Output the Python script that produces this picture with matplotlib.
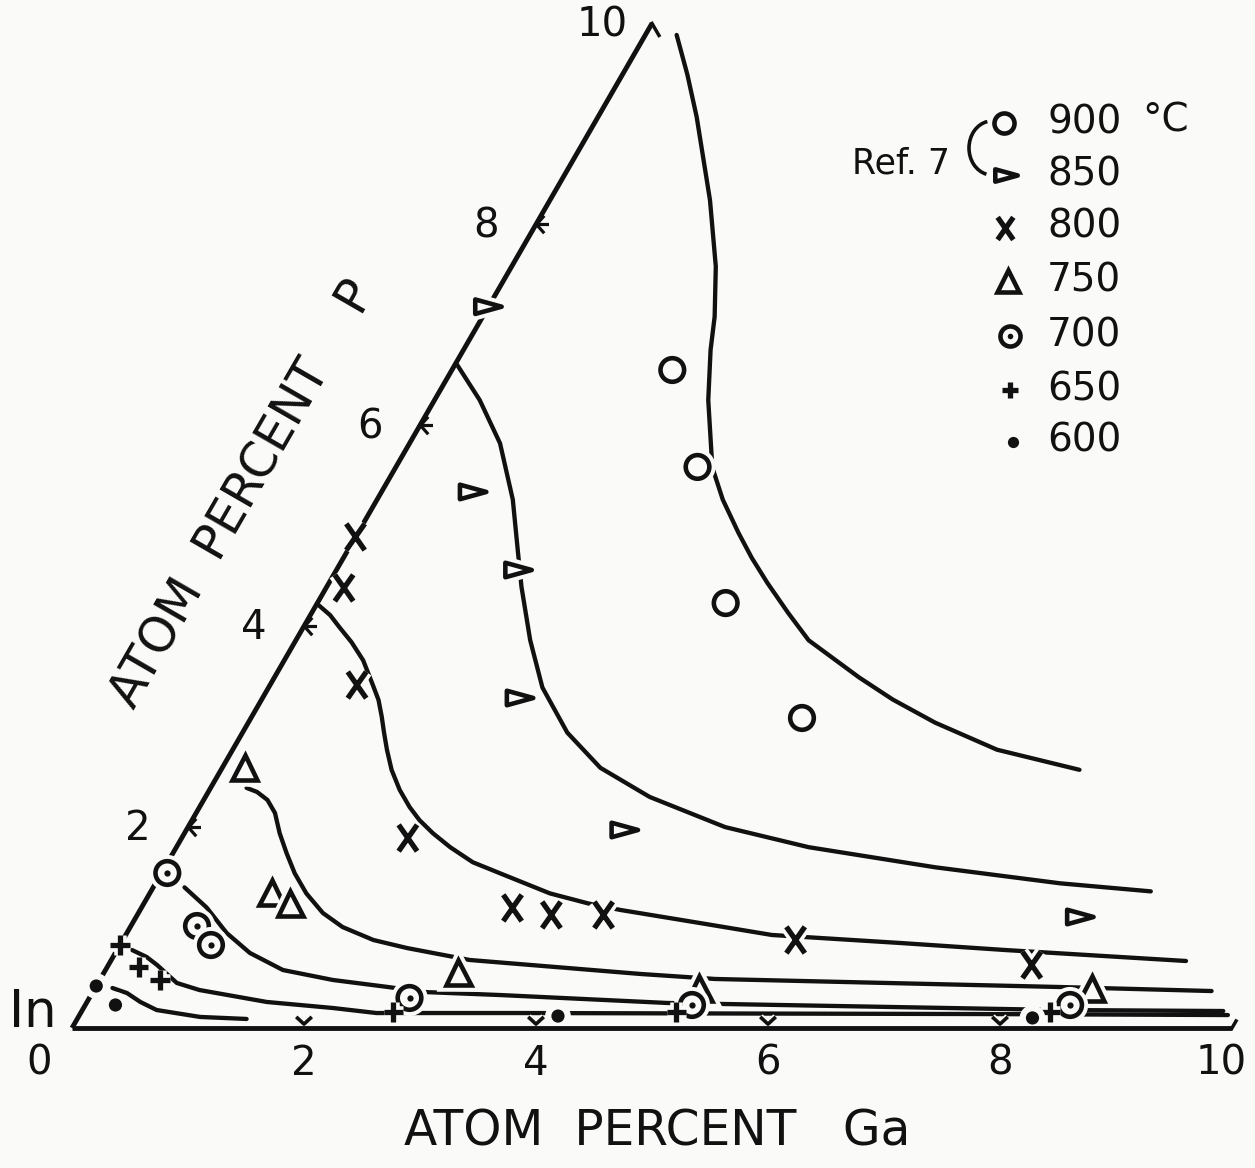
import numpy as np
import matplotlib
matplotlib.use("Agg")
import matplotlib.pyplot as plt
import matplotlib.patheffects as pe
from matplotlib.path import Path
from matplotlib.patches import Arc
from matplotlib.transforms import IdentityTransform

plt.rcParams['font.family'] = ['DejaVu Sans']

# ---------------- data (atom % Ga, atom % P) ----------------
# Isotherm curves
c900_ga = [0.27, 0.56, 0.85, 1.38, 1.76, 2.00, 2.13, 2.36, 2.73, 2.98, 3.28, 3.52, 3.78, 4.11,
           4.42, 5.04, 5.44, 5.92, 6.59, 7.40]
c900_p = [9.885, 9.49, 9.07, 8.24, 7.58, 7.08, 6.75, 6.25, 5.58, 5.26, 4.93, 4.68, 4.43, 4.13,
          3.86, 3.49, 3.27, 3.04, 2.77, 2.57]
c850_ga = [0.00, 0.39, 0.78, 1.17, 1.48, 1.68, 2.02, 2.36, 2.80, 3.26, 3.83, 4.63, 5.45, 6.64,
           7.80, 8.62]
c850_p = [6.62, 6.25, 5.82, 5.26, 4.73, 4.39, 3.86, 3.39, 2.94, 2.59, 2.30, 2.00, 1.80, 1.60,
          1.44, 1.36]
c800_ga = [0.02, 0.17, 0.31, 0.49, 0.68, 0.89, 1.01, 1.12, 1.22, 1.33, 1.47, 1.64, 1.81, 1.96,
           2.14, 2.36, 2.63, 2.92, 3.45, 3.83, 4.14, 4.89, 5.57, 6.72, 7.66, 9.27]
c800_p = [4.21, 4.11, 3.99, 3.84, 3.66, 3.41, 3.265, 3.10, 2.94, 2.77, 2.57, 2.37, 2.20, 2.07,
          1.94, 1.80, 1.65, 1.54, 1.34, 1.24, 1.175, 1.045, 0.926, 0.846, 0.776, 0.667]
c750_ga = [0.31, 0.42, 0.55, 0.68, 0.82, 0.98, 1.15, 1.35, 1.59, 1.83, 2.16, 2.49, 3.09, 4.63,
           5.30, 8.31, 9.64]
c750_p = [2.39, 2.35, 2.27, 2.14, 1.94, 1.74, 1.54, 1.34, 1.145, 1.005, 0.876, 0.796, 0.677,
          0.538, 0.488, 0.408, 0.368]
c700_ga = [0.27, 0.56, 0.86, 1.16, 1.53, 2.01, 2.52, 2.86, 3.53, 5.01, 8.43, 9.84]
c700_p = [1.40, 1.20, 0.946, 0.747, 0.577, 0.478, 0.408, 0.358, 0.328, 0.249, 0.179, 0.169]
c650_ga = [0.13, 0.29, 0.42, 0.68, 0.91, 1.55, 2.15, 2.55, 3.79, 7.74, 9.90]
c650_p = [0.776, 0.707, 0.627, 0.448, 0.378, 0.259, 0.199, 0.149, 0.149, 0.139, 0.129]
c600_ga = [0.15, 0.30, 0.46, 0.64, 1.05, 1.46]
c600_p = [0.398, 0.348, 0.259, 0.179, 0.11, 0.09]

# Measured points
p900_ga = [1.90, 2.60, 3.52, 4.75]
p900_p = [6.55, 5.585, 4.23, 3.086]
p850_ga = [0.00, 0.79, 1.57, 2.22, 3.78, 8.14]
p850_p = [7.18, 5.336, 4.559, 3.285, 1.971, 1.105]
p800_ga = [0.00, 0.155, 0.75, 1.95, 3.20, 3.57, 4.02, 5.80, 7.96]
p800_p = [4.888, 4.38, 3.414, 1.891, 1.195, 1.125, 1.125, 0.876, 0.627]
p750_ga = [0.19, 1.05, 1.26, 3.05, 5.21, 8.59]
p750_p = [2.598, 1.344, 1.244, 0.557, 0.398, 0.398]
p700_ga = [0.05, 0.57, 0.785, 2.76, 5.23, 8.49]
p700_p = [1.543, 1.015, 0.826, 0.299, 0.229, 0.229]
p650_ga = [0.00, 0.27, 0.52, 2.69, 5.13, 8.35]
p650_p = [0.826, 0.607, 0.478, 0.159, 0.159, 0.159]
p600_ga = [0.00, 0.26, 4.13, 8.23]
p600_p = [0.418, 0.229, 0.119, 0.10]

# Axis ticks / labels
ga_ticks = [2, 4, 6, 8]
p_ticks = [2, 4, 6, 8]
ga_ticklabels = ['0', '2', '4', '6', '8', '10']
ga_ticklabel_pos = [0, 2, 4, 6, 8, 10]
p_ticklabels = ['2', '4', '6', '8', '10']
p_ticklabel_pos = [2, 4, 6, 8, 10]
temps = ['900', '850', '800', '750', '700', '650', '600']

# ---------------- helpers ----------------
S3 = np.sqrt(3) / 2


def tern(ga, p):
    ga = np.asarray(ga, float)
    p = np.asarray(p, float)
    return ga + p / 2.0, p * S3


W, H = 1255, 1168
BG = '#fafaf8'
INK = '#111111'

fig = plt.figure(figsize=(W / 100, H / 100), dpi=100, facecolor=BG)
ax = fig.add_axes([0, 0, 1, 1])
ax.set_facecolor(BG)
ax.set_xlim(-72 / 116, (W - 72) / 116)
ax.set_ylim(-(H - 1028) / 116, 1028 / 116)
ax.axis('off')

LW = 3.1

# triangle edges
x, y = tern([0, 10], [0, 0])
ax.plot(x, y, color=INK, lw=LW + 0.4, solid_capstyle='butt', zorder=7)
x, y = tern([0, 0], [0, 10])
ax.plot(x, y, color=INK, lw=LW + 0.4, solid_capstyle='butt', zorder=4)
x, y = tern([0, 0.12], [10, 9.88])
ax.plot(x, y, color=INK, lw=LW - 0.6, zorder=4)
x, y = tern([10, 10], [0, 0.07])
ax.plot(x, y, color=INK, lw=LW - 0.6, zorder=7)

# isotherms
for cg, cp in [(c900_ga, c900_p), (c850_ga, c850_p), (c800_ga, c800_p),
               (c750_ga, c750_p), (c700_ga, c700_p), (c650_ga, c650_p),
               (c600_ga, c600_p)]:
    x, y = tern(cg, cp)
    ax.plot(x, y, color=INK, lw=LW, solid_capstyle='round', solid_joinstyle='round', zorder=2)

# custom markers
tri_right = Path([(-1, -0.55), (1, 0), (-1, 0.55), (-1, -0.55)],
                 [Path.MOVETO, Path.LINETO, Path.LINETO, Path.CLOSEPOLY])
x_mark = Path([(-0.7, -1), (0.7, 1), (-0.7, 1), (0.7, -1)],
              [Path.MOVETO, Path.LINETO, Path.MOVETO, Path.LINETO])
v_tick = Path([(-0.7, 1), (0, 0.35), (0.7, 1)],
              [Path.MOVETO, Path.LINETO, Path.LINETO])
p_tick = Path([(0.62, 0.7), (0, 0), (0.62, -0.7), (0, 0), (1, 0)],
              [Path.MOVETO, Path.LINETO, Path.LINETO, Path.MOVETO, Path.LINETO])


def halo(w):
    return [pe.withStroke(linewidth=w, foreground=BG)]


# ticks
x, y = tern(ga_ticks, [0] * len(ga_ticks))
ax.plot(x, y, ls='none', marker=v_tick, ms=16, mew=2.6, mec=INK, mfc='none', zorder=3,
        path_effects=halo(5))
x, y = tern([0] * len(p_ticks), p_ticks)
ax.plot(x, y, ls='none', marker=p_tick, ms=18, mew=2.3, mec=INK, mfc='none', zorder=3)

# data markers
styles = [
    (p900_ga, p900_p, dict(marker='o', ms=17, mew=3.3, mfc=BG)),
    (p850_ga, p850_p, dict(marker=tri_right, ms=19, mew=3.3, mfc=BG)),
    (p800_ga, p800_p, dict(marker=x_mark, ms=19, mew=3.8, mfc='none')),
    (p750_ga, p750_p, dict(marker='^', ms=18, mew=3.3, mfc=BG)),
    (p700_ga, p700_p, dict(marker='o', ms=17, mew=3.3, mfc=BG)),
    (p650_ga, p650_p, dict(marker='+', ms=14, mew=3.8, mfc='none')),
    (p600_ga, p600_p, dict(marker='o', ms=9.5, mew=0, mfc=INK)),
]
for g, p, st in styles:
    x, y = tern(g, p)
    ax.plot(x, y, ls='none', mec=INK, zorder=5, path_effects=halo(9), **st)
x, y = tern(p700_ga, p700_p)
ax.plot(x, y, ls='none', marker='o', ms=4.5, mew=0, mfc=INK, zorder=6)

# tick labels
for lab, g in zip(ga_ticklabels, ga_ticklabel_pos):
    xx, yy = tern(g, 0)
    if lab == '0':
        xx = xx - 0.28
    if lab == '10':
        xx = xx - 0.09
    ax.text(xx, yy - 0.31, lab, fontsize=29, ha='center', va='center', color=INK)
for lab, p in zip(p_ticklabels, p_ticklabel_pos):
    xx, yy = tern(0, p)
    ax.text(xx - 0.43, yy - 0.02, lab, fontsize=29, ha='center', va='center', color=INK)

ax.text(-0.34, 0.13, 'In', fontsize=37, ha='center', va='center', color=INK)


def ftxt(px, py, s, **kw):
    fig.text(px / W, 1 - py / H, s, color=INK, **kw)


ftxt(657, 1132, 'ATOM  PERCENT   Ga', fontsize=35, ha='center', va='center')
ftxt(243, 494, 'ATOM  PERCENT    P', fontsize=35, ha='center', va='center',
     rotation=60, rotation_mode='anchor')

# legend
leg_y = [123, 175, 228, 281, 336, 390, 442]
leg_x = [1004, 1006, 1005, 1008, 1010, 1010, 1013]
for (g, p, st), lx, ly, t in zip(styles, leg_x, leg_y, temps):
    st2 = dict(st)
    st2['ms'] = st['ms'] * 0.85
    ax.plot([(lx - 72) / 116], [(1028 - ly) / 116], ls='none', mec=INK, zorder=5, **st2)
    ftxt(1047, ly - 1, t, fontsize=28, ha='left', va='center')
ax.plot([(1010 - 72) / 116], [(1028 - 336) / 116], ls='none', marker='o', ms=4, mew=0,
        mfc=INK, zorder=6)
ftxt(1142, 121, '°C', fontsize=28, ha='left', va='center')
ftxt(901, 163, 'Ref. 7', fontsize=25, ha='center', va='center')
arc = Arc((992, H - 148), 46, 54, theta1=100, theta2=258, transform=IdentityTransform(),
          color=INK, lw=2.6)
fig.add_artist(arc)

fig.savefig('out.png', dpi=100, facecolor=BG)
